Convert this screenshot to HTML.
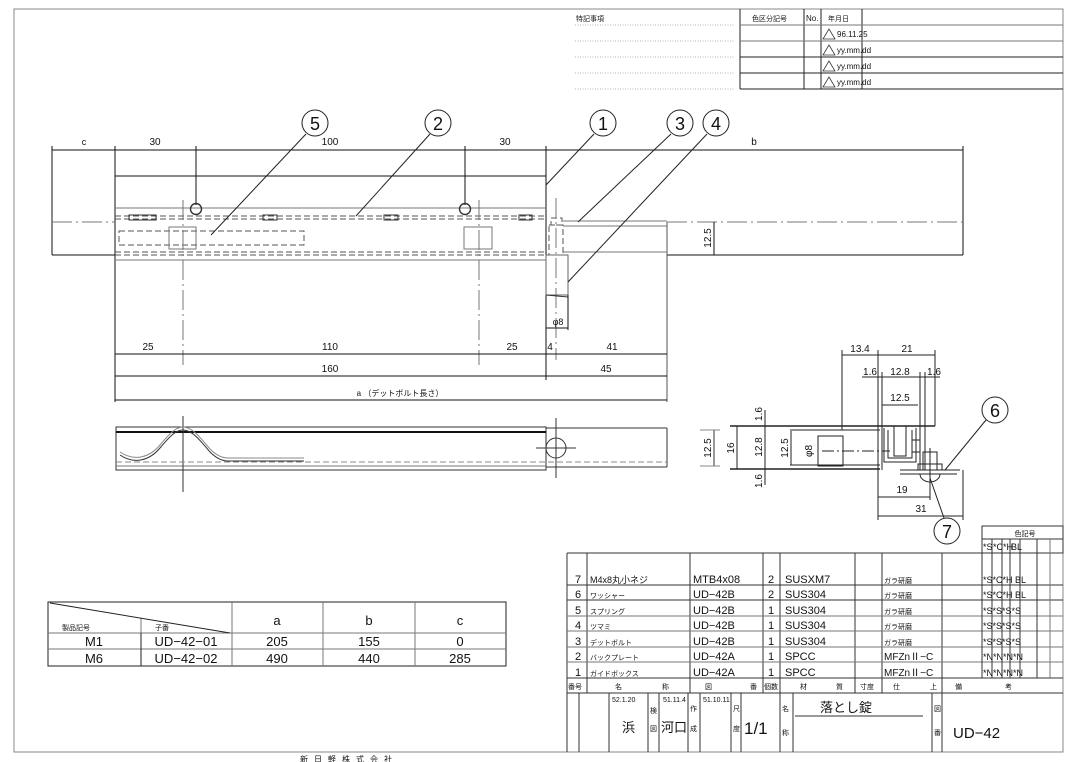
<!DOCTYPE html>
<html><head><meta charset="utf-8"><style>
html,body{margin:0;padding:0;background:#fff;}
svg{display:block;font-family:"Liberation Sans","Noto Sans CJK JP",sans-serif;}
</style></head><body>
<svg width="1073" height="762" viewBox="0 0 1073 762" xmlns="http://www.w3.org/2000/svg">
<g fill="none" stroke-linecap="butt">
<rect x="14" y="9" width="1049" height="743" stroke="#888" stroke-width="1"/>

<g stroke="#222" stroke-width="1">
<line x1="740" y1="9" x2="740" y2="89"/>
<line x1="804" y1="9" x2="804" y2="89"/>
<line x1="821" y1="9" x2="821" y2="89"/>
<line x1="862" y1="9" x2="862" y2="89"/>
<line x1="740" y1="25" x2="1063" y2="25" stroke="#777"/>
<line x1="740" y1="41" x2="1063" y2="41" stroke="#777"/>
<line x1="740" y1="57" x2="1063" y2="57"/>
<line x1="740" y1="73" x2="1063" y2="73"/>
<line x1="740" y1="89" x2="1063" y2="89"/>
</g>
<g stroke="#999" stroke-width="0.7" stroke-dasharray="1,1.5">
<line x1="575" y1="25" x2="735" y2="25"/><line x1="575" y1="41" x2="735" y2="41"/>
<line x1="575" y1="57" x2="735" y2="57"/><line x1="575" y1="73" x2="735" y2="73"/>
<line x1="575" y1="89" x2="735" y2="89"/>
</g>
<g stroke="#333" stroke-width="0.8">
<path d="M823 39 L829 29 L835 39 Z"/><path d="M823 55 L829 45 L835 55 Z"/>
<path d="M823 71 L829 61 L835 71 Z"/><path d="M823 87 L829 77 L835 87 Z"/>
</g>

<g stroke="#111" stroke-width="1">
<line x1="52" y1="150" x2="963" y2="150"/>
<line x1="52" y1="146" x2="52" y2="255"/>
<line x1="115" y1="146" x2="115" y2="402"/>
<line x1="196" y1="146" x2="196" y2="205"/>
<line x1="465" y1="146" x2="465" y2="205"/>
<line x1="546" y1="146" x2="546" y2="380"/>
<line x1="963" y1="146" x2="963" y2="255"/>
<line x1="115" y1="176" x2="546" y2="176"/>
<line x1="52" y1="255" x2="115" y2="255"/>
<line x1="667" y1="255" x2="963" y2="255"/>
<line x1="667" y1="222" x2="667" y2="402" stroke="#555"/>
</g>
<g stroke="#777" stroke-width="1">
<line x1="115" y1="208" x2="546" y2="208"/>
<line x1="115" y1="260" x2="546" y2="260"/>
<line x1="563" y1="221" x2="667" y2="221"/>
<line x1="563" y1="226" x2="667" y2="226"/>
<line x1="563" y1="252" x2="667" y2="252"/>
</g>
<g stroke="#555" stroke-width="1" stroke-dasharray="6,3">
<line x1="115" y1="216" x2="546" y2="216"/>
<line x1="115" y1="219" x2="546" y2="219"/>
<line x1="115" y1="252" x2="546" y2="252"/>
<line x1="115" y1="255" x2="546" y2="255"/>
<rect x="119" y="231" width="185" height="14"/>
<rect x="549" y="225" width="14" height="30"/>
<rect x="551" y="218" width="11" height="7"/>
</g>
<g stroke="#777" stroke-width="1" stroke-dasharray="20,4,2,4">
<line x1="52" y1="222" x2="115" y2="222"/>
<line x1="667" y1="222" x2="963" y2="222"/>
<line x1="183" y1="200" x2="183" y2="365"/>
<line x1="479" y1="200" x2="479" y2="365"/>
<line x1="556" y1="198" x2="556" y2="360"/>
</g>
<g stroke="#333" stroke-width="1">
<rect x="129" y="215" width="27" height="5"/><rect x="263" y="215" width="14" height="5"/>
<rect x="384" y="215" width="14" height="5"/><rect x="519" y="215" width="13" height="5"/>
<rect x="169" y="227" width="27" height="22" stroke="#777"/>
<rect x="464" y="227" width="28" height="22" stroke="#777"/>
<circle cx="196" cy="209" r="5.5" stroke-width="1.4"/>
<circle cx="465" cy="209" r="5.5" stroke-width="1.4"/>
<rect x="546" y="255" width="22" height="40" stroke="#666"/>
<line x1="546" y1="295" x2="568" y2="297"/>
</g>
<g stroke="#111" stroke-width="1">
<line x1="115" y1="354" x2="667" y2="354"/>
<line x1="115" y1="376" x2="667" y2="376"/>
<line x1="115" y1="400" x2="667" y2="400"/>
<line x1="546" y1="328" x2="568" y2="328"/>
<line x1="568" y1="295" x2="568" y2="330"/>
<line x1="714" y1="222" x2="714" y2="255"/>
</g>
<g stroke="#222" stroke-width="1">
<circle cx="315" cy="123" r="13"/><circle cx="438" cy="123" r="13"/>
<circle cx="603" cy="123" r="13"/><circle cx="680" cy="123" r="13"/><circle cx="716" cy="123" r="13"/>
<line x1="306" y1="134" x2="211" y2="235"/>
<line x1="430" y1="134" x2="356" y2="216"/>
<line x1="594" y1="134" x2="546" y2="185"/>
<line x1="671" y1="134" x2="578" y2="222"/>
<line x1="707" y1="134" x2="568" y2="282"/>
<circle cx="995" cy="410" r="13"/><line x1="986" y1="420" x2="945" y2="470"/>
<circle cx="947" cy="531" r="13"/><line x1="944" y1="518" x2="930" y2="478"/>
</g>

<g stroke="#333" stroke-width="1">
<rect x="116" y="427" width="430" height="43"/>
<line x1="116" y1="432" x2="546" y2="432" stroke="#111" stroke-width="2"/>
<line x1="116" y1="466" x2="546" y2="466" stroke="#777"/>
<line x1="546" y1="428" x2="667" y2="428"/>
<line x1="546" y1="467" x2="667" y2="467"/>
<line x1="667" y1="428" x2="667" y2="467"/>
<circle cx="556" cy="448" r="10"/>
<line x1="556" y1="418" x2="556" y2="478"/>
<line x1="536" y1="448" x2="576" y2="448"/>
<line x1="183" y1="416" x2="183" y2="492"/>
<path d="M120 455 C135 465 150 460 160 448 C170 436 176 430 183 430 C192 430 200 440 210 452 C216 458 222 461 228 461 L304 461"/>
<path d="M120 452 C135 462 150 457 160 445 C170 433 176 427 183 427 C192 427 200 437 210 449 C216 455 222 458 228 458 L304 458" stroke="#888"/>
<line x1="714" y1="430" x2="714" y2="466"/>
<line x1="700" y1="430" x2="720" y2="430" stroke="#888"/>
<line x1="700" y1="466" x2="720" y2="466" stroke="#888"/>
</g>
<line x1="116" y1="462" x2="667" y2="462" stroke="#888" stroke-width="1" stroke-dasharray="6,3"/>

<g stroke="#222" stroke-width="1">
<line x1="737" y1="426" x2="737" y2="469"/>
<line x1="765" y1="410" x2="765" y2="485"/>
<line x1="791" y1="431" x2="791" y2="465"/>
<line x1="730" y1="426" x2="935" y2="426" stroke-width="1.4"/>
<line x1="730" y1="469" x2="880" y2="469" stroke-width="1.4"/>
<line x1="790" y1="430" x2="880" y2="430"/>
<line x1="790" y1="465" x2="880" y2="465"/>
<rect x="818" y="436" width="25" height="30"/>
<line x1="822" y1="451" x2="890" y2="451" stroke-dasharray="12,3,2,3"/>
<line x1="842" y1="350" x2="842" y2="430"/>
<line x1="878" y1="350" x2="878" y2="520"/>
<line x1="935" y1="350" x2="935" y2="426"/>
<line x1="842" y1="355" x2="935" y2="355"/>
<line x1="862" y1="377" x2="940" y2="377"/>
<line x1="882" y1="372" x2="882" y2="470"/>
<line x1="920" y1="372" x2="920" y2="470"/>
<line x1="925" y1="372" x2="925" y2="470"/>
<line x1="882" y1="405" x2="918" y2="405"/>
<path d="M884 428 L884 462 L916 462 L916 428"/>
<path d="M888 430 L888 458 L912 458 L912 430"/>
<rect x="894" y="426" width="12" height="30"/>
<rect x="912" y="440" width="8" height="12"/>
<line x1="900" y1="470" x2="960" y2="470"/>
<line x1="900" y1="474" x2="957" y2="474"/>
<rect x="923" y="452" width="14" height="18"/>
<rect x="918" y="464" width="24" height="6"/>
<path d="M920 474 A10 8 0 0 0 940 474"/>
<line x1="930" y1="448" x2="930" y2="500"/>
<line x1="963" y1="470" x2="963" y2="520"/>
<line x1="878" y1="497" x2="930" y2="497"/>
<line x1="878" y1="516" x2="963" y2="516"/>
</g>

<g stroke="#222" stroke-width="1">
<rect x="48" y="602" width="458" height="64"/>
<line x1="48" y1="633" x2="506" y2="633" stroke="#777"/>
<line x1="48" y1="649" x2="506" y2="649" stroke="#777"/>
<line x1="141" y1="633" x2="141" y2="666"/>
<line x1="141" y1="618" x2="141" y2="633" stroke="#777"/>
<line x1="232" y1="602" x2="232" y2="666" stroke="#777"/>
<line x1="323" y1="602" x2="323" y2="666" stroke="#777"/>
<line x1="415" y1="602" x2="415" y2="666" stroke="#777"/>
<line x1="50" y1="603" x2="230" y2="633"/>
</g>

<g stroke="#333" stroke-width="1">
<rect x="982" y="526" width="81" height="27"/>
<line x1="982" y1="539" x2="1063" y2="539"/>
<line x1="567" y1="553" x2="1063" y2="553"/>
<line x1="567" y1="553" x2="567" y2="752"/>
<line x1="587" y1="553" x2="587" y2="693"/>
<line x1="690" y1="553" x2="690" y2="693"/>
<line x1="763" y1="553" x2="763" y2="693"/>
<line x1="780" y1="553" x2="780" y2="752"/>
<line x1="855" y1="553" x2="855" y2="693"/>
<line x1="882" y1="553" x2="882" y2="693"/>
<line x1="942" y1="553" x2="942" y2="752"/>
<line x1="567" y1="585" x2="1063" y2="585"/>
<line x1="567" y1="600" x2="1063" y2="600"/>
<line x1="567" y1="616" x2="1063" y2="616" stroke="#777"/>
<line x1="567" y1="631" x2="1063" y2="631" stroke="#777"/>
<line x1="567" y1="647" x2="1063" y2="647" stroke="#777"/>
<line x1="567" y1="662" x2="1063" y2="662" stroke="#777"/>
<line x1="567" y1="678" x2="1063" y2="678"/>
<line x1="567" y1="693" x2="1063" y2="693"/>
<line x1="992" y1="539" x2="992" y2="678"/>
<line x1="1002" y1="539" x2="1002" y2="678"/>
<line x1="1010" y1="539" x2="1010" y2="678"/>
<line x1="1020" y1="539" x2="1020" y2="678"/>
<line x1="1037" y1="539" x2="1037" y2="678"/>
<line x1="982" y1="539" x2="982" y2="678"/>
<line x1="1050" y1="539" x2="1050" y2="678" stroke="#777"/>
<line x1="579" y1="693" x2="579" y2="752"/>
<line x1="609" y1="693" x2="609" y2="752"/>
<line x1="648" y1="693" x2="648" y2="752"/>
<line x1="659" y1="693" x2="659" y2="752"/>
<line x1="688" y1="693" x2="688" y2="752"/>
<line x1="700" y1="693" x2="700" y2="752"/>
<line x1="731" y1="693" x2="731" y2="752"/>
<line x1="741" y1="693" x2="741" y2="752"/>
<line x1="793" y1="693" x2="793" y2="752"/>
<line x1="932" y1="693" x2="932" y2="752"/>
<line x1="795" y1="716" x2="923" y2="716"/>
</g>
</g>

<g fill="#111" font-size="10">
<text x="576" y="21" font-size="7">特記事項</text>
<text x="752" y="21" font-size="7">色区分記号</text>
<text x="806" y="21" font-size="8">No.</text>
<text x="828" y="21" font-size="7">年月日</text>
<text x="837" y="37" font-size="8">96.11.25</text>
<text x="837" y="53" font-size="8">yy.mm.dd</text>
<text x="837" y="69" font-size="8">yy.mm.dd</text>
<text x="837" y="85" font-size="8">yy.mm.dd</text>
<g font-size="18" text-anchor="middle">
<text x="315" y="130">5</text><text x="438" y="130">2</text><text x="603" y="130">1</text>
<text x="680" y="130">3</text><text x="716" y="130">4</text>
<text x="995" y="417">6</text><text x="947" y="538">7</text>
</g>
<g text-anchor="middle">
<text x="84" y="145" font-size="9">c</text>
<text x="155" y="145">30</text><text x="330" y="145">100</text><text x="505" y="145">30</text>
<text x="754" y="145">b</text>
<text x="148" y="350">25</text><text x="330" y="350">110</text><text x="512" y="350">25</text>
<text x="550" y="350">4</text><text x="612" y="350">41</text>
<text x="330" y="372">160</text><text x="606" y="372">45</text>
<text x="400" y="396" font-size="8">a （デットボルト長さ）</text>
<text x="558" y="325" font-size="9">φ8</text>
<text x="860" y="352">13.4</text><text x="907" y="352">21</text>
<text x="870" y="375">1.6</text><text x="900" y="375">12.8</text><text x="934" y="375">1.6</text>
<text x="900" y="401">12.5</text>
<text x="902" y="493">19</text><text x="921" y="512">31</text>
</g>
<g text-anchor="middle">
<text transform="translate(711,238) rotate(-90)">12.5</text>
<text transform="translate(711,448) rotate(-90)">12.5</text>
<text transform="translate(734,448) rotate(-90)">16</text>
<text transform="translate(762,447) rotate(-90)">12.8</text>
<text transform="translate(762,414) rotate(-90)">1.6</text>
<text transform="translate(762,481) rotate(-90)">1.6</text>
<text transform="translate(788,448) rotate(-90)">12.5</text>
<text transform="translate(812,451) rotate(-90)">φ8</text>
</g>
<text x="62" y="630" font-size="7">製品記号</text>
<text x="155" y="630" font-size="7">子番</text>
<g text-anchor="middle" font-size="13">
<text x="277" y="625">a</text><text x="369" y="625">b</text><text x="460" y="625">c</text>
<text x="94" y="646">M1</text><text x="186" y="646">UD−42−01</text><text x="277" y="646">205</text><text x="369" y="646">155</text><text x="460" y="646">0</text>
<text x="94" y="663">M6</text><text x="186" y="663">UD−42−02</text><text x="277" y="663">490</text><text x="369" y="663">440</text><text x="460" y="663">285</text>
</g>
<text x="1025" y="536" font-size="7" text-anchor="middle">色記号</text>
<g font-size="9">
<text x="983" y="550">*S</text><text x="993" y="550">*C</text><text x="1003" y="550">*H</text><text x="1011" y="550">BL</text>
</g>
<g font-size="11">
<text x="575" y="583">7</text><text x="590" y="583" font-size="9">M4x8丸小ネジ</text><text x="693" y="583">MTB4x08</text><text x="768" y="583">2</text><text x="785" y="583">SUSXM7</text><text x="884" y="583" font-size="7">ガラ研磨</text>
<text x="575" y="598">6</text><text x="590" y="598" font-size="7">ワッシャー</text><text x="693" y="598">UD−42B</text><text x="768" y="598">2</text><text x="785" y="598">SUS304</text><text x="884" y="598" font-size="7">ガラ研磨</text>
<text x="575" y="614">5</text><text x="590" y="614" font-size="7">スプリング</text><text x="693" y="614">UD−42B</text><text x="768" y="614">1</text><text x="785" y="614">SUS304</text><text x="884" y="614" font-size="7">ガラ研磨</text>
<text x="575" y="629">4</text><text x="590" y="629" font-size="7">ツマミ</text><text x="693" y="629">UD−42B</text><text x="768" y="629">1</text><text x="785" y="629">SUS304</text><text x="884" y="629" font-size="7">ガラ研磨</text>
<text x="575" y="645">3</text><text x="590" y="645" font-size="7">デットボルト</text><text x="693" y="645">UD−42B</text><text x="768" y="645">1</text><text x="785" y="645">SUS304</text><text x="884" y="645" font-size="7">ガラ研磨</text>
<text x="575" y="660">2</text><text x="590" y="660" font-size="7">バックプレート</text><text x="693" y="660">UD−42A</text><text x="768" y="660">1</text><text x="785" y="660">SPCC</text><text x="884" y="660" font-size="10">MFZnⅡ−C</text>
<text x="575" y="676">1</text><text x="590" y="676" font-size="7">ガイドボックス</text><text x="693" y="676">UD−42A</text><text x="768" y="676">1</text><text x="785" y="676">SPCC</text><text x="884" y="676" font-size="10">MFZnⅡ−C</text>
</g>
<g font-size="9">
<text x="983" y="583">*S*C*H BL</text><text x="983" y="598">*S*C*H BL</text>
<text x="983" y="614">*S*S*S*S</text><text x="983" y="629">*S*S*S*S</text><text x="983" y="645">*S*S*S*S</text>
<text x="983" y="660">*N*N*N*N</text><text x="983" y="676">*N*N*N*N</text>
</g>
<g font-size="7">
<text x="568" y="689">番号</text><text x="615" y="689">名</text><text x="662" y="689">称</text>
<text x="705" y="689">図</text><text x="750" y="689">番</text><text x="764" y="689">個数</text>
<text x="800" y="689">材</text><text x="836" y="689">質</text><text x="860" y="689">寸度</text>
<text x="893" y="689">仕</text><text x="930" y="689">上</text><text x="955" y="689">備</text><text x="1005" y="689">考</text>
<text x="612" y="702">52.1.20</text><text x="663" y="702">51.11.4</text><text x="703" y="702">51.10.11</text>
<text x="650" y="713">検</text><text x="650" y="731">図</text>
<text x="690" y="711">作</text><text x="690" y="731">成</text>
<text x="733" y="711">尺</text><text x="733" y="731">度</text>
<text x="782" y="711">名</text><text x="782" y="735">称</text>
<text x="934" y="711">図</text><text x="934" y="735">番</text>
<text x="300" y="762" font-size="8" letter-spacing="6">新日軽株式会社</text>
</g>
<text x="622" y="732" font-size="13">浜</text>
<text x="661" y="732" font-size="13">河口</text>
<text x="744" y="734" font-size="17">1/1</text>
<text x="820" y="712" font-size="13">落とし錠</text>
<text x="953" y="738" font-size="15">UD−42</text>
</g>
</svg>
</body></html>
